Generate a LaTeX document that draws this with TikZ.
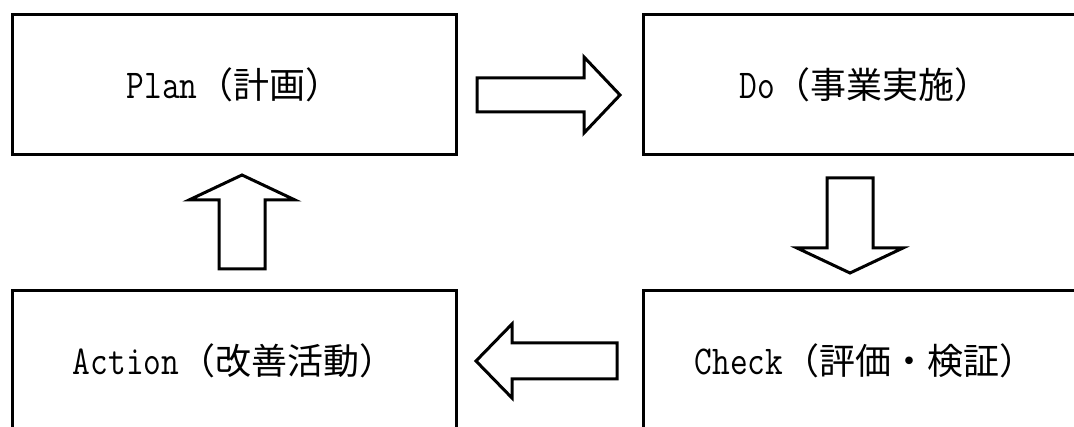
\documentclass[tikz,border=0pt]{standalone}
\usepackage{fontspec}
\newfontfamily\latinmono{Latin Modern Mono}[FakeStretch=0.84]
\newfontfamily\cjk{Noto Sans CJK JP}
\newcommand\lat[1]{{\fontsize{41}{44}\latinmono #1}}
\begin{document}
\begin{tikzpicture}[x=1pt,y=1pt,
  pdcabox/.style={draw=black, line width=3pt, rectangle, minimum width=444pt, minimum height=140pt, inner sep=0pt, font=\fontsize{36}{40}\selectfont},
  blockarrow/.style={draw=black, line width=3pt, fill=white, line join=miter}]
\useasboundingbox (0,0) rectangle (1074,-427);
\clip (0,0) rectangle (1074,-427);
\node[pdcabox] (plan) at (234,-85) {\lat{Plan}{\cjk （計画）}};
\node[pdcabox] (do) at (865,-85) {\lat{Do}{\cjk （事業実施）}};
\node[pdcabox] (check) at (865,-361) {\lat{Check}{\cjk （評価・検証）}};
\node[pdcabox] (action) at (234,-361) {\lat{Action}{\cjk （改善活動）}};
% Plan -> Do
\draw[blockarrow] (477,-78) -- (584,-78) -- (584,-57) -- (620,-95) -- (584,-133) -- (584,-112) -- (477,-112) -- cycle;
% Do -> Check
\draw[blockarrow] (827,-178) -- (873,-178) -- (873,-248) -- (903,-248) -- (850,-273) -- (797,-248) -- (827,-248) -- cycle;
% Check -> Action
\draw[blockarrow] (617,-343) -- (512,-343) -- (512,-324) -- (476,-361) -- (512,-398) -- (512,-379) -- (617,-379) -- cycle;
% Action -> Plan
\draw[blockarrow] (219,-269) -- (265,-269) -- (265,-200) -- (295,-200) -- (242,-175) -- (189,-200) -- (219,-200) -- cycle;
\end{tikzpicture}
\end{document}
